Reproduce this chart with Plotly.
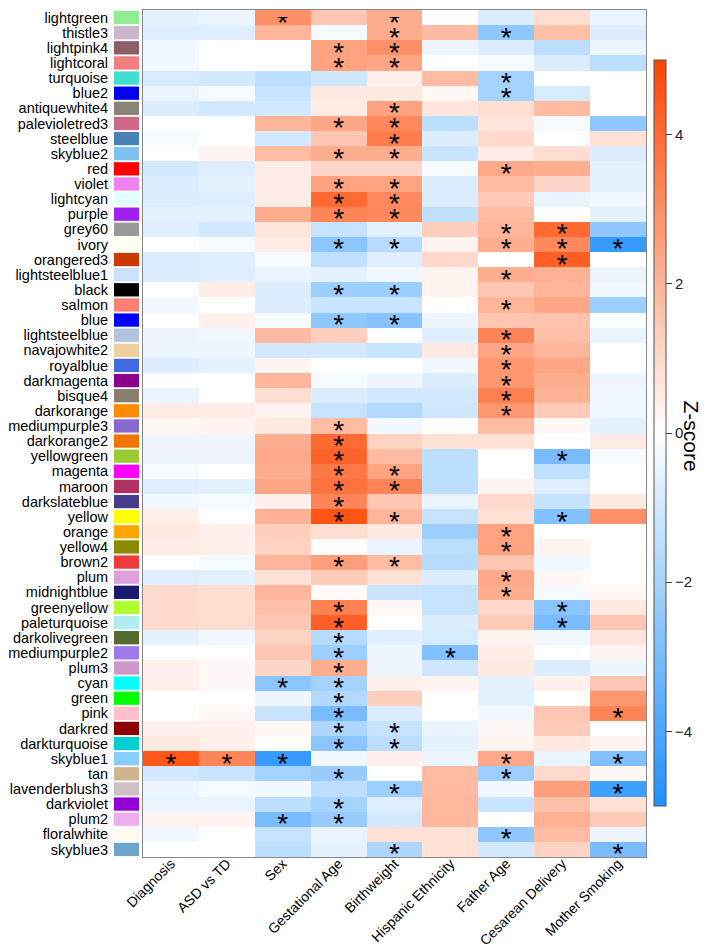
import plotly.graph_objects as go

# ---------------- data ----------------
modules = ["lightgreen", "thistle3", "lightpink4", "lightcoral", "turquoise", "blue2",
           "antiquewhite4", "palevioletred3", "steelblue", "skyblue2", "red", "violet",
           "lightcyan", "purple", "grey60", "ivory", "orangered3", "lightsteelblue1",
           "black", "salmon", "blue", "lightsteelblue", "navajowhite2", "royalblue",
           "darkmagenta", "bisque4", "darkorange", "mediumpurple3", "darkorange2",
           "yellowgreen", "magenta", "maroon", "darkslateblue", "yellow", "orange",
           "yellow4", "brown2", "plum", "midnightblue", "greenyellow", "paleturquoise",
           "darkolivegreen", "mediumpurple2", "plum3", "cyan", "green", "pink", "darkred",
           "darkturquoise", "skyblue1", "tan", "lavenderblush3", "darkviolet", "plum2",
           "floralwhite", "skyblue3"]

module_hex = ["#90EE90", "#CDB5CD", "#8B5F65", "#F08080", "#40E0D0", "#0000EE",
              "#8B8378", "#CD6889", "#4682B4", "#7EC0EE", "#FF0000", "#EE82EE",
              "#E0FFFF", "#A020F0", "#999999", "#FFFFF0", "#CD3700", "#CAE1FF",
              "#000000", "#FA8072", "#0000FF", "#B0C4DE", "#EECFA1", "#4169E1",
              "#8B008B", "#8B7D6B", "#FF8C00", "#8968CD", "#EE7600",
              "#9ACD32", "#FF00FF", "#B03060", "#483D8B", "#FFFF00", "#FFA500",
              "#8B8B00", "#EE3B3B", "#DDA0DD", "#191970", "#ADFF2F", "#AFEEEE",
              "#556B2F", "#9F79EE", "#CD96CD", "#00FFFF", "#00FF00", "#FFC0CB", "#8B0000",
              "#00CED1", "#87CEFF", "#D2B48C", "#CDC1C5", "#9400D3", "#EEAEEE",
              "#FFFAF0", "#6CA6CD"]

traits = ["Diagnosis", "ASD vs TD", "Sex", "Gestational Age", "Birthweight",
          "Hispanic Ethnicity", "Father Age", "Cesarean Delivery", "Mother Smoking"]

diagnosis = [-0.6, -0.7, -0.3, -0.3, -0.9, -0.5, -0.8, 0, -0.2, 0,
             -1.0, -0.8, -0.8, -0.6, -0.7, 0, -0.8, -0.8, 0, -0.3,
             0, -0.4, -0.4, -0.8, 0, -0.5, 0.5, 0.2, -0.4, -0.4,
             -0.2, -0.7, -0.3, 0.4, 0.6, 0.5, 0, -0.7, 1.0, 1.0,
             1.0, -0.6, 0, 0.4, 0.4, 0, 0, 0.4, 0.6, 4.5,
             -1.0, -0.4, -0.5, 0.3, -0.3, 0]
asd_vs_td = [-0.4, -0.7, 0, 0, -1.0, -0.2, -1.0, 0, 0, 0.3,
             -0.7, -0.6, -0.7, -0.6, -1.0, -0.2, -0.7, -0.7, 0.5, 0,
             0.4, -0.3, -0.4, -0.6, 0, 0, 0.5, 0.3, -0.4, -0.4,
             0, -0.6, -0.2, 0, 0.4, 0.4, -0.2, -0.6, 0.9, 0.9,
             0.9, -0.3, 0, 0.2, 0.2, 0, 0.2, 0.4, 0.4, 3.3,
             -1.2, -0.2, -0.5, 0.3, 0, 0]
sex = [3.0, 2.0, 0, 0, -1.5, -1.2, -1.0, 2.0, -1.0, 1.8,
       0.5, 0.5, 0.5, 2.2, 0.7, 0.5, -0.2, -0.5, -0.8, -0.8,
       -0.2, 1.8, -1.0, 0.3, 2.0, 0.9, 0.3, 0.6, 2.2, 2.3,
       2.2, 2.4, 0.4, 2.1, 1.3, 1.2, 2.0, 0.8, 2.0, 1.7,
       1.5, 1.2, 1.5, 1.1, -2.6, -0.4, -1.2, 0.2, 0, -4.5,
       -2.0, -0.3, -1.5, -3.0, -1.3, -1.5]
gestational_age = [1.5, -0.2, 2.5, 2.5, -1.1, 0.6, 0.5, 2.4, 1.5, 2.2,
                   1.1, 2.5, 4.0, 3.3, -1.3, -2.6, -1.4, -0.6, -2.2, -1.2,
                   -2.5, 1.3, -1.0, 0, -0.2, -0.8, -1.3, 1.8, 4.0, 4.2,
                   3.6, 3.8, 3.3, 4.6, 0.9, 0, 2.6, 1.4, 0.1, 3.4,
                   4.3, -1.6, -2.2, 2.2, -2.0, -1.7, -3.0, -1.8, -2.6, -0.3,
                   -2.3, -1.5, -2.0, -2.3, -0.5, -0.6]
birthweight = [2.2, 2.2, 3.0, 2.4, 0.4, 0.6, 2.5, 3.2, 3.5, 2.2,
               1.1, 2.5, 3.2, 3.2, -0.6, -1.6, -0.7, -0.3, -2.2, -1.2,
               -2.7, 0, -1.2, 0, -0.4, -1.0, -1.7, -0.3, 1.2, 1.8,
               2.5, 3.3, 1.5, 2.0, 0.6, -0.5, 1.8, 0.8, -1.2, 0.2,
               0, -0.7, -0.4, -0.4, 0.4, 1.3, -0.8, -1.3, -1.5, 0.4,
               0, -2.2, -0.7, -1.0, 0.8, -1.8]
hispanic_ethnicity = [0, 1.8, -0.4, 0, 1.8, 0.2, 0.7, -1.5, -0.8, -1.2,
                      -0.2, -0.8, -0.8, -1.4, 1.3, 0.3, 1.0, 0.3, 0.3, 0,
                      -0.4, -0.7, 0.6, -0.3, -0.8, -1.0, -1.1, 0, 0.8, -1.5,
                      -1.5, -1.5, -0.5, -1.3, -2.2, -1.5, -1.6, -0.8, -1.3, -1.3,
                      -0.8, -0.9, -2.8, -1.1, 0.3, 0, 0, -0.5, -0.6, -0.4,
                      1.8, 1.8, 1.9, 1.9, 0.8, 0.8]
father_age = [-0.8, -2.5, -0.8, -0.2, -2.0, -2.0, 0.9, 0.7, 1.0, 0.5,
              2.3, 1.8, 1.4, 1.8, 2.0, 2.2, 0, 2.2, 1.5, 2.0,
              1.5, 3.3, 2.4, 2.8, 2.8, 3.4, 2.8, 1.8, 0.8, 0,
              0, 0.3, 1.0, 0.8, 2.5, 2.5, 1.5, 2.3, 2.2, 1.0,
              1.4, 0.3, 0.5, 0.6, -0.6, -0.6, -0.3, 0.2, 0.3, 2.3,
              -2.2, -0.3, -1.2, 0, -2.5, -1.0]
cesarean_delivery = [0.9, 1.7, -1.5, -0.8, 0, -0.9, 1.8, -0.2, 0, 0.9,
                     2.2, 1.1, -0.5, 0, 4.0, 3.2, 4.3, 2.1, 2.0, 2.4,
                     1.6, 1.7, 2.0, 2.4, 2.2, 2.1, 1.4, 0.2, 0, -3.0,
                     -1.4, -0.7, -1.3, -2.8, 0, 0.3, -0.3, 0.2, -0.2, -2.6,
                     -3.0, -0.3, 0, -0.8, 0.4, 0, 1.5, 1.4, 0.6, -0.5,
                     1.0, 2.6, 1.7, 2.1, 1.8, 1.2]
mother_smoking = [-0.5, -0.8, -0.4, -1.5, 0, 0, 0, -2.5, 0.8, -0.8,
                  -0.6, -0.6, -0.3, -0.6, -2.5, -4.5, 0, -0.4, -0.3, -2.2,
                  -0.1, -0.5, 0, 0, -0.4, -0.3, -0.3, -0.6, 0.5, -0.2,
                  0, 0, 0.6, 3.0, 0, 0, 0, 0, 0.2, 0.6,
                  1.5, 0.7, 0.3, -0.4, 1.5, 2.8, 3.3, 0, 0.3, -2.8,
                  0.2, -4.3, 0.8, 1.4, -0.4, -3.0]

# significance marks, one string per module, one character per trait
significance = ["..*.*....", "....*.*..", "...**....", "...**....", "......*..",
                "......*..", "....*....", "...**....", "....*....", "...**....",
                "......*..", "...**....", "...**....", "...**....", "......**.",
                "...**.***", ".......*.", "......*..", "...**....", "......*..",
                "...**....", "......*..", "......*..", "......*..", "......*..",
                "......*..", "......*..", "...*.....", "...*.....", "...*...*.",
                "...**....", "...**....", "...*.....", "...**..*.", "......*..",
                "......*..", "...**....", "......*..", "......*..", "...*...*.",
                "...*...*.", "...*.....", "...*.*...", "...*.....", "..**.....",
                "...*.....", "...*....*", "...**....", "...**....", "***...*.*",
                "...*..*..", "....*...*", "...*.....", "..**.....", "......*..",
                "....*...*"]

series = [diagnosis, asd_vs_td, sex, gestational_age, birthweight,
          hispanic_ethnicity, father_age, cesarean_delivery, mother_smoking]

# ---------------- figure ----------------
W, H = 709, 948
z = [[series[j][i] for j in range(len(traits))] for i in range(len(modules))]

star_x, star_y = [], []
for i, m in enumerate(modules):
    for j, t in enumerate(traits):
        if significance[i][j] == "*":
            star_x.append(t)
            star_y.append(m)

heat_left, heat_right = 135, 638
heat_top, heat_bottom = 2, 849
sw_left, sw_right = 106, 131
star_dy = 7  # px shift of the asterisk text layer

font = "Liberation Sans, Arial, Helvetica, sans-serif"

fig = go.Figure()
fig.add_trace(go.Heatmap(
    x=traits, y=modules, z=z, zmin=-5, zmax=5,
    colorscale=[[0, "#1E90FF"], [0.5, "#FFFFFF"], [1, "#FF4500"]],
    xaxis="x", yaxis="y", hoverinfo="skip",
    colorbar=dict(
        x=646 / W, xanchor="left", xpad=0, y=1 - 425 / H, yanchor="middle",
        ypad=0, len=746 / H, lenmode="fraction", thickness=12,
        outlinewidth=1, outlinecolor="#555555",
        tickvals=[-4, -2, 0, 2, 4], ticks="outside", ticklen=6,
        tickcolor="#444444", tickfont=dict(family=font, size=15, color="#222222"),
    ),
))
fig.add_trace(go.Bar(
    x=[1] * len(modules), y=modules, orientation="h",
    marker=dict(color=module_hex, line=dict(width=0)), width=0.88,
    xaxis="x2", yaxis="y", hoverinfo="skip", showlegend=False,
))
fig.add_trace(go.Scatter(
    x=star_x, y=star_y, mode="text", text=["*"] * len(star_x),
    textposition="middle center",
    textfont=dict(family=font, size=28, color="#000000"),
    xaxis="x", yaxis="y3", hoverinfo="skip", showlegend=False,
))

yrange = [len(modules) - 0.5, -0.5]
ydom = [1 - heat_bottom / H, 1 - heat_top / H]
fig.update_layout(
    width=W, height=H, margin=dict(l=0, r=0, t=0, b=0, autoexpand=False),
    paper_bgcolor="white", plot_bgcolor="rgba(0,0,0,0)", showlegend=False,
    font=dict(family=font, color="#000000"),
    xaxis=dict(domain=[heat_left / W, heat_right / W], type="category",
               categoryorder="array", categoryarray=traits, tickangle=-45,
               tickfont=dict(size=14), showgrid=False, zeroline=False,
               showline=True, linecolor="#888888", linewidth=1, mirror=True,
               ticks="", anchor="y", automargin=False,
               ticklabelstandoff=-8),
    xaxis2=dict(domain=[sw_left / W, sw_right / W], range=[0, 1],
                visible=False, anchor="y", automargin=False),
    yaxis=dict(domain=ydom, type="category", categoryorder="array",
               categoryarray=modules, range=yrange,
               tickmode="array", tickvals=modules, ticktext=modules,
               tickfont=dict(size=14.5), showgrid=False,
               zeroline=False, showline=True, linecolor="#888888",
               linewidth=1, mirror=True, ticks="", anchor="x",
               automargin=False, ticklabelstandoff=31),
    yaxis3=dict(domain=[ydom[0] - star_dy / H, ydom[1] - star_dy / H],
                type="category", categoryorder="array", categoryarray=modules,
                range=yrange, visible=False, anchor="x", automargin=False),
    annotations=[dict(text="Z-score", x=697 / W, y=1 - 428 / H,
                      xref="paper", yref="paper", showarrow=False,
                      textangle=90, font=dict(size=21, family=font))],
)

fig.write_html("out.html")
